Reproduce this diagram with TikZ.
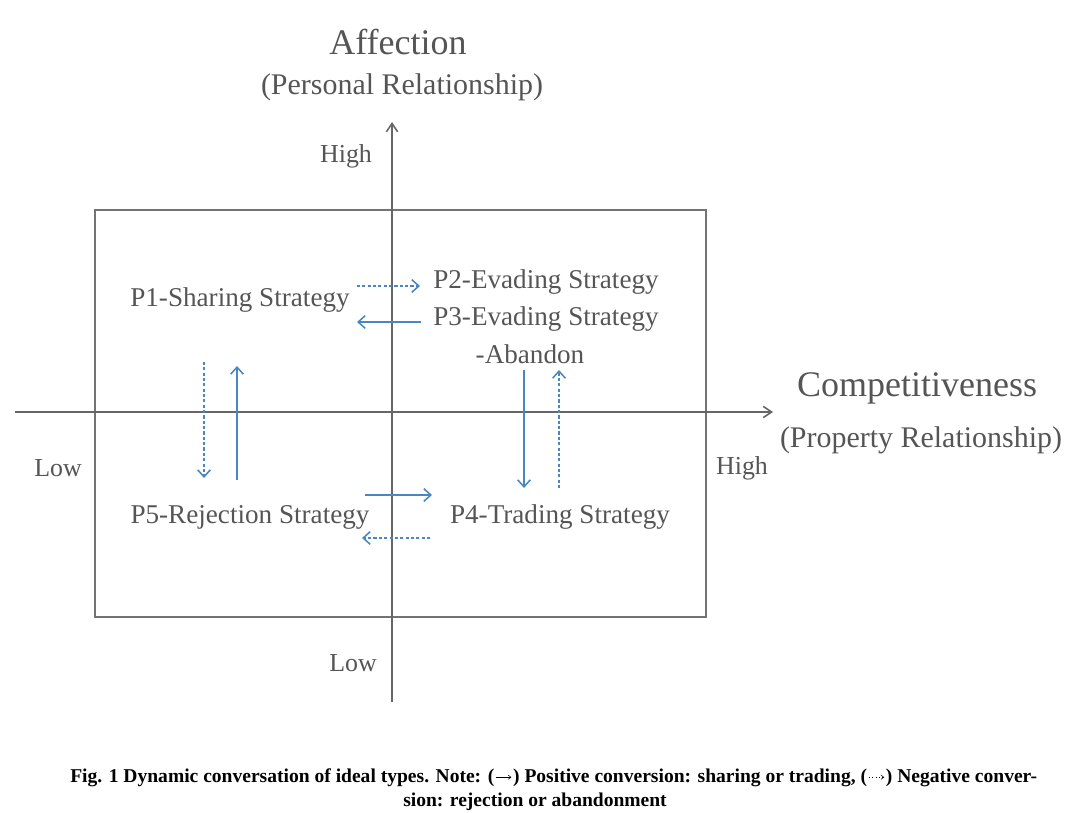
\documentclass[tikz,border=0pt]{standalone}
\usepackage{fontspec}
\setmainfont{Liberation Serif}
\usepackage{xcolor}
\usepackage{tikz}
\usetikzlibrary{arrows.meta,positioning}
\definecolor{arrowblue}{RGB}{74,134,192}
\definecolor{labelgray}{RGB}{85,85,85}
\tikzstyle{frame} = [draw=black!55, line width=1.1pt]
\tikzstyle{axis} = [draw=black!60, line width=1.1pt, -{Straight Barb[length=6pt,width=8pt]}]
\tikzstyle{strategy} = [text=labelgray, font=\fontsize{19.3}{22}\selectfont, inner sep=0pt]
\tikzstyle{level} = [text=labelgray, font=\fontsize{18.4}{20}\selectfont, inner sep=0pt]
\tikzstyle{title} = [text=labelgray, font=\fontsize{25.6}{28}\selectfont, inner sep=0pt]
\tikzstyle{subtitle} = [text=labelgray, font=\fontsize{21.3}{24}\selectfont, inner sep=0pt]
\tikzstyle{positive} = [draw=arrowblue, line width=1.1pt, -{Straight Barb[length=5pt,width=9pt]}]
\tikzstyle{negative} = [draw=arrowblue, line width=1.1pt, dash pattern=on 2.2pt off 1.6pt, -{Straight Barb[length=5pt,width=9pt]}]
\tikzstyle{captext} = [font=\bfseries\fontsize{13.9}{17}\selectfont, inner sep=0pt]
\tikzstyle{capsolid} = [line width=0.4pt, -{Straight Barb[length=2pt,width=3pt]}]
\tikzstyle{capdotted} = [line width=0.4pt, dotted, -{Straight Barb[length=2pt,width=3pt]}]
\begin{document}
\begin{tikzpicture}[x=0.025cm, y=-0.025cm]
\useasboundingbox (0,0) rectangle (1065,813);
% frame and axes
\draw [frame] (95,210) rectangle (706,617);
\coordinate (ybot) at (392,702);
\coordinate (ytop) at (392,122);
\coordinate (xleft) at (15,412);
\coordinate (xright) at (773,412);
\draw [axis] (ybot) -- (ytop);
\draw [axis] (xleft) -- (xright);
% axis titles
\node [title] (affection) at (398,42) {Affection};
\node [subtitle] (personal) at (402,87) {(Personal Relationship)};
\node [title] (compet) at (917,388) {Competitiveness};
\node [subtitle] (property) at (921,440) {(Property Relationship)};
\node [level] (yhigh) at (346,156) {High};
\node [level] (ylow) at (353,663) {Low};
\node [level] (xlow) at (58,468) {Low};
\node [level] (xhigh) at (742,468) {High};
% strategies
\node [strategy] (p1) at (240,300) {P1-Sharing Strategy};
\node [strategy] (p2) at (546,282) {P2-Evading Strategy};
\node [strategy] (p3) at (546,319) {P3-Evading Strategy};
\node [strategy] (p3b) at (530,354) {-Abandon};
\node [strategy] (p5) at (250,517) {P5-Rejection Strategy};
\node [strategy] (p4) at (560,517) {P4-Trading Strategy};
% conversion end points
\coordinate (p1r) at (357,286);
\coordinate (p2l) at (420,286);
\coordinate (p3l) at (421,322);
\coordinate (p1rb) at (357,322);
\coordinate (p1d) at (204,362);
\coordinate (p5u) at (204,478);
\coordinate (p5ub) at (237,480);
\coordinate (p1db) at (237,366);
\coordinate (p3d) at (524,370);
\coordinate (p4u) at (524,488);
\coordinate (p4ub) at (559,488);
\coordinate (p3db) at (559,370);
\coordinate (p5r) at (365,495);
\coordinate (p4l) at (432,495);
\coordinate (p4lb) at (430,538);
\coordinate (p5rb) at (362,538);
% conversions
\draw [negative] (p1r) -- (p2l);
\draw [positive] (p3l) -- (p1rb);
\draw [negative] (p1d) -- (p5u);
\draw [positive] (p5ub) -- (p1db);
\draw [positive] (p3d) -- (p4u);
\draw [negative] (p4ub) -- (p3db);
\draw [positive] (p5r) -- (p4l);
\draw [negative] (p4lb) -- (p5rb);
% caption
\node [captext, anchor=base west] (cap1) at (70,782) {Fig. 1 Dynamic conversation of ideal types. Note: (};
\node [captext, base right=13pt of cap1] (cap2) {) Positive conversion: sharing or trading, (};
\node [captext, base right=13pt of cap2] (cap3) {) Negative conver-};
\node [captext, anchor=base] (cap4) at (535,806) {sion: rejection or abandonment};
\draw [capsolid] ([xshift=1pt,yshift=3.4pt]cap1.base east) -- ([xshift=-1pt,yshift=3.4pt]cap2.base west);
\draw [capdotted] ([xshift=1pt,yshift=3.4pt]cap2.base east) -- ([xshift=-1pt,yshift=3.4pt]cap3.base west);
\end{tikzpicture}
\end{document}
